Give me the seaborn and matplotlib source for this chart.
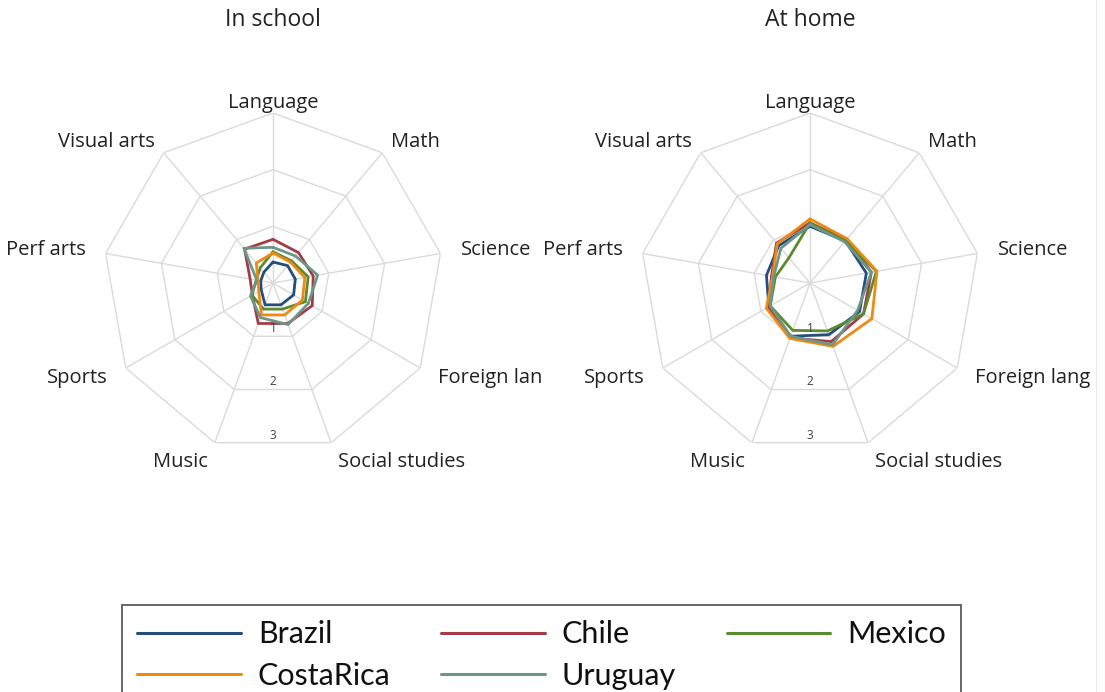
import numpy as np
import pandas as pd
import matplotlib
matplotlib.use("Agg")
import matplotlib.pyplot as plt
import seaborn as sns
from matplotlib.transforms import Bbox, TransformedBbox
from matplotlib.lines import Line2D
from matplotlib.patches import Rectangle

# ---------------- data ----------------
categories = ["Language", "Math", "Science", "Foreign lang", "Social studies",
              "Music", "Sports", "Perf arts", "Visual arts"]
countries = ["Brazil", "Chile", "Mexico", "CostaRica", "Uruguay"]

school_brazil = [0.37, 0.40, 0.40, 0.42, 0.41, 0.41, 0.24, 0.22, 0.25]
school_chile = [0.77, 0.70, 0.72, 0.80, 0.76, 0.76, 0.42, 0.41, 0.78]
school_mexico = [0.55, 0.51, 0.63, 0.66, 0.49, 0.49, 0.43, 0.30, 0.35]
school_costarica = [0.53, 0.48, 0.57, 0.60, 0.60, 0.60, 0.29, 0.27, 0.46]
school_uruguay = [0.63, 0.62, 0.80, 0.72, 0.78, 0.65, 0.46, 0.29, 0.80]

home_brazil = [1.00, 0.97, 1.01, 1.01, 0.97, 1.00, 0.84, 0.78, 0.86]
home_chile = [1.06, 1.00, 1.10, 1.09, 1.10, 1.03, 0.85, 0.69, 0.92]
home_mexico = [1.06, 0.97, 1.19, 1.09, 0.90, 0.89, 0.81, 0.62, 0.58]
home_costarica = [1.13, 1.02, 1.20, 1.26, 1.19, 1.04, 0.89, 0.67, 0.90]
home_uruguay = [1.03, 0.95, 1.10, 0.97, 1.16, 1.00, 0.81, 0.65, 0.80]

ring_ticks = [1, 2, 3]
titles = ["In school", "At home"]

colors = {"Brazil": "#244f7c", "Chile": "#a33c48", "Mexico": "#5b8a2f",
          "CostaRica": "#ee8a12", "Uruguay": "#6d9688"}

school = {"Brazil": school_brazil, "Chile": school_chile, "Mexico": school_mexico,
          "CostaRica": school_costarica, "Uruguay": school_uruguay}
home = {"Brazil": home_brazil, "Chile": home_chile, "Mexico": home_mexico,
        "CostaRica": home_costarica, "Uruguay": home_uruguay}

n = len(categories)
angles = np.linspace(0, 2 * np.pi, n, endpoint=False)
angles_closed = np.append(angles, 2 * np.pi)


def long_df(d):
    rows = []
    for c in countries:
        vals = list(d[c]) + [d[c][0]]
        for th, v in zip(angles_closed, vals):
            rows.append({"country": c, "theta": th, "value": v})
    return pd.DataFrame(rows)


# ---------------- figure ----------------
sns.set_theme(style="white")
plt.rcParams["font.family"] = ["Open Sans", "DejaVu Sans"]

W, H = 1105, 692
fig = plt.figure(figsize=(W / 100, H / 100), dpi=100)

# faint page border on the right
fig.patches.append(Rectangle((1096 / W, 0), (W - 1096) / W, 1, transform=fig.transFigure,
                             facecolor="#fcfcfc", edgecolor="none", zorder=-10))
fig.lines.append(Line2D([1096 / W, 1096 / W], [0, 1], transform=fig.transFigure,
                        color="#ececec", lw=0.8, zorder=-5))

R = 170.0          # outer ring radius in px
cy = 283.0
centers_x = [273.0, 810.0]
clip_right = [541.0, float(W)]
grid_col = "#dadada"
rmax = 3.0

for idx, (data, title) in enumerate(zip([school, home], titles)):
    cx = centers_x[idx]
    ax = fig.add_axes([(cx - R) / W, (H - cy - R) / H, 2 * R / W, 2 * R / H],
                      projection="polar")
    ax.set_theta_zero_location("N")
    ax.set_theta_direction(-1)
    ax.set_ylim(0, rmax)
    ax.grid(False)
    ax.spines["polar"].set_visible(False)
    ax.set_xticks([])
    ax.set_yticks([])
    ax.patch.set_alpha(0)

    # polygon grid
    for k in ring_ticks:
        ax.plot(angles_closed, [k] * (n + 1), color=grid_col, lw=1.0, zorder=0)
    for th in angles:
        ax.plot([th, th], [0, rmax], color=grid_col, lw=1.0, zorder=0)

    # ring labels at the bottom
    for k in ring_ticks:
        ax.text(np.pi, k * np.cos(np.pi / n) - 0.02, str(k), ha="center", va="bottom",
                fontsize=8.5, color="#404040")

    df = long_df(data)
    sns.lineplot(data=df, x="theta", y="value", hue="country", hue_order=countries,
                 palette=colors, sort=False, estimator=None, lw=2.0, ax=ax,
                 legend=False)
    ax.set_xlabel("")
    ax.set_ylabel("")

    clipbox = TransformedBbox(Bbox([[0, 0], [clip_right[idx] / W, 1]]), fig.transFigure)
    for th, lab in zip(angles, categories):
        s, c = np.sin(th), np.cos(th)
        if s > 0.1:
            ha = "left"
        elif s < -0.1:
            ha = "right"
        else:
            ha = "center"
        if c > 0.99:
            va, r = "bottom", 3.0
        elif c > 0.6:
            va, r = "center", 3.25
        else:
            va, r = "center", 3.36
        t = ax.text(th, r, lab, ha=ha, va=va, fontsize=14.5, color="#222222")
        t.set_clip_path(None)
        t.set_clip_box(clipbox)
        t.set_clip_on(True)

    fig.text(cx / W, 1 - 20 / H, title, ha="center", va="center",
             fontsize=16.5, color="#222222")

# legend (row-wise order)
order = ["Brazil", "CostaRica", "Chile", "Uruguay", "Mexico"]
handles = [Line2D([], [], color=colors[c], lw=2.2) for c in order]
leg = fig.legend(handles, order, loc="upper left",
                 bbox_to_anchor=(122 / W, 1 - 605 / H), ncol=3,
                 prop={"family": ["Lato", "DejaVu Sans"], "size": 22},
                 frameon=True, fancybox=False, borderpad=0.5,
                 handlelength=3.4, handletextpad=0.55, columnspacing=1.65,
                 labelspacing=0.45, borderaxespad=0)
leg.get_frame().set_edgecolor("#333333")
leg.get_frame().set_linewidth(1.3)
for txt in leg.get_texts():
    txt.set_color("#111111")

fig.savefig("out.png", dpi=100)
